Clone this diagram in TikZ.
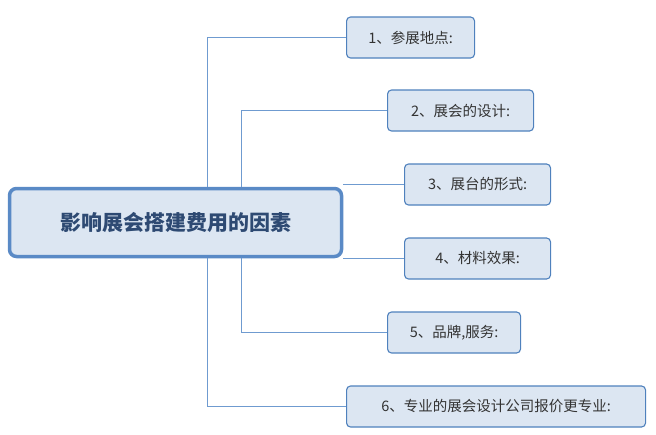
\documentclass[tikz,border=0pt]{standalone}
\usepackage{fontspec}
\setmainfont{Noto Sans CJK SC}
\usepackage{tikz}
\usetikzlibrary{positioning}
\definecolor{boxfill}{HTML}{DCE6F2}
\definecolor{boxline}{HTML}{4F81BD}
\definecolor{rootline}{HTML}{5A8AC6}
\definecolor{linkline}{HTML}{6F9BD0}
\definecolor{roottext}{HTML}{2E4A73}

\begin{document}
\begin{tikzpicture}[x=1pt, y=-1pt, every node/.style={font=\fontsize{14.5}{17}\selectfont}]
  % Styles
  \tikzstyle{root}=[rectangle, rounded corners=7pt, draw=rootline, line width=3.5pt, fill=boxfill, text=roottext, minimum width=332pt, minimum height=68pt, font=\fontsize{21}{25}\selectfont\bfseries]
  \tikzstyle{item}=[rectangle, rounded corners=4pt, draw=boxline, line width=1.1pt, fill=boxfill, text=black!80, minimum height=41pt, inner xsep=9pt]
  \tikzstyle{link}=[draw=linkline, line width=0.8pt]

  \useasboundingbox (0,0) rectangle (656,434);

  % Root
  \node[root] (root) at (175.5,222.5) {影响展会搭建费用的因素};

  % Items
  \node[item, anchor=west, minimum width=128pt] (c1) at (346,37.5) {1、参展地点:};
  \node[item, anchor=west, minimum width=146pt] (c2) at (387,110.5) {2、展会的设计:};
  \node[item, anchor=west, minimum width=146pt] (c3) at (404,184.5) {3、展台的形式:};
  \node[item, anchor=west, minimum width=146pt] (c4) at (404,258.5) {4、材料效果:};
  \node[item, anchor=west, minimum width=133pt] (c5) at (387,332.5) {5、品牌,服务:};
  \node[item, anchor=west, minimum width=299pt] (c6) at (346,406.5) {6、专业的展会设计公司报价更专业:};

  % Connectors
  \coordinate (s1) at (207,0);
  \coordinate (s2) at (241,0);
  \draw[link] (root.north -| s1) |- (c1.west);
  \draw[link] (root.south -| s1) |- (c6.west);
  \draw[link] (root.north -| s2) |- (c2.west);
  \draw[link] (root.south -| s2) |- (c5.west);
  \draw[link] (root.east |- c3.west) -- (c3.west);
  \draw[link] (root.east |- c4.west) -- (c4.west);
\end{tikzpicture}
\end{document}
